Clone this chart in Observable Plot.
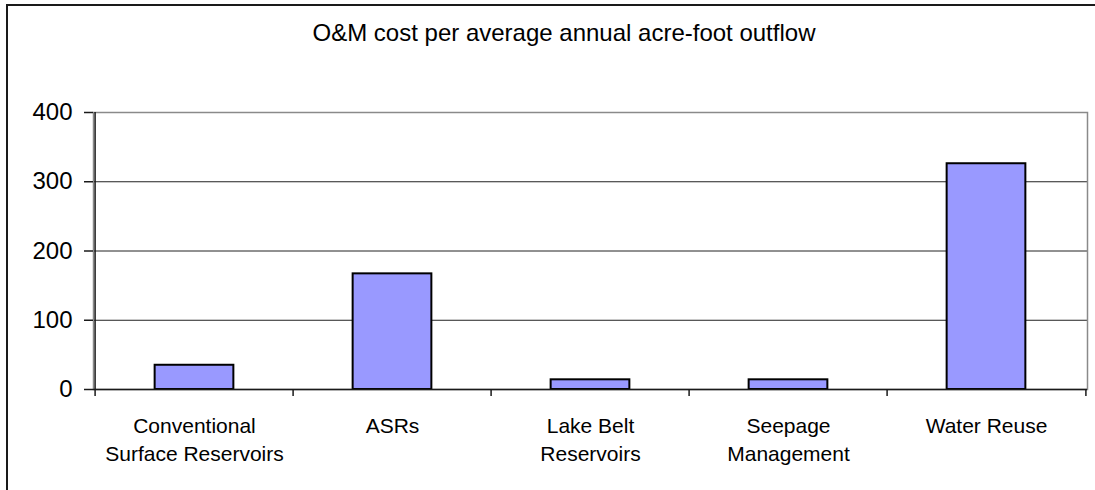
<!DOCTYPE html>
<html>
<head>
<meta charset="utf-8">
<script src="https://cdn.jsdelivr.net/npm/d3@7"></script>
<script src="https://cdn.jsdelivr.net/npm/@observablehq/plot@0.6"></script>
<style>
  html, body { margin: 0; padding: 0; background: #fff; overflow: hidden; width: 1095px; height: 490px; }
  #outer { position: absolute; left: 6px; top: 4px; width: 1200px; height: 600px; z-index: 5; pointer-events: none;
           border-left: 2px solid #1a1a1a; border-top: 2px solid #1a1a1a; box-sizing: border-box; }
  #title { position: absolute; left: 0; top: 21px; width: 1128px; text-align: center;
           font-family: "Liberation Sans", Arial, sans-serif; font-size: 24px; line-height: 24px; color: #000; }
  #chart { position: absolute; left: 0; top: 80px; }
</style>
</head>
<body>
<div id="outer"></div>
<div id="title">O&amp;M cost per average annual acre-foot outflow</div>
<div id="chart"></div>
<script>
const categories = ["Conventional Surface Reservoirs", "ASRs", "Lake Belt Reservoirs", "Seepage Management", "Water Reuse"];
const tickLabels = ["Conventional\nSurface Reservoirs", "ASRs", "Lake Belt\nReservoirs", "Seepage\nManagement", "Water Reuse"];
const values = [35, 167, 14, 14, 326];
const yTicks = [0, 100, 200, 300, 400];
const gridValues = [100, 200, 300];

const data = categories.map((c, i) => ({category: c, value: values[i]}));
const labelOf = new Map(categories.map((c, i) => [c, tickLabels[i]]));

const W = 1095, H = 410;
const mL = 93, mR = 8, mT = 32, mB = 101;
const bw = (W - mL - mR) / categories.length;

const chart = Plot.plot({
  width: W,
  height: H,
  marginLeft: mL,
  marginRight: mR,
  marginTop: mT,
  marginBottom: mB,
  style: {fontFamily: "'Liberation Sans', Arial, sans-serif", color: "#000", background: "transparent"},
  x: {domain: categories, padding: 0, label: null},
  y: {domain: [0, 400], label: null},
  marks: [
    Plot.ruleY(gridValues, {stroke: "#222", strokeWidth: 1}),
    Plot.frame({stroke: "#8a8a8a", strokeWidth: 1.5}),
    Plot.barY(data, {x: "category", y: "value", fill: "#9999ff", stroke: "#000", strokeWidth: 2, insetLeft: bw * 0.3, insetRight: bw * 0.3}),
    Plot.ruleY([0], {stroke: "#1a1a1a", strokeWidth: 1.5}),
    Plot.ruleX([categories[0]], {x: d => d, dx: -bw / 2, stroke: "#1a1a1a", strokeWidth: 1.5}),
    Plot.ruleX(categories, {x: d => d, dx: -bw / 2, y1: 0, y2: 0, insetBottom: -7, stroke: "#1a1a1a", strokeWidth: 1.5}),
    Plot.ruleX([categories[categories.length - 1]], {x: d => d, dx: bw / 2, y1: 0, y2: 0, insetBottom: -7, stroke: "#1a1a1a", strokeWidth: 1.5}),
    Plot.axisY({ticks: yTicks, tickSize: 9, tickPadding: 12, fontSize: 24, stroke: "#1a1a1a", strokeWidth: 1.5, label: null}),
    Plot.axisX({tickSize: 0, tickPadding: 23, fontSize: 21, lineHeight: 1.35, tickFormat: d => labelOf.get(d), label: null})
  ]
});
document.getElementById("chart").appendChild(chart);
</script>
</body>
</html>
